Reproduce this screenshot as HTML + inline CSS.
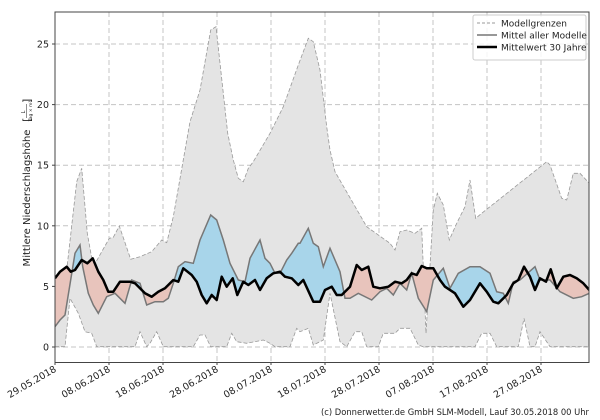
<!DOCTYPE html>
<html><head><meta charset="utf-8"><style>
body{margin:0;background:#fff;}
svg{display:block;font-family:"DejaVu Sans","Liberation Sans",sans-serif;}
</style></head><body>
<svg id="s" width="600" height="420" xmlns="http://www.w3.org/2000/svg">
<defs><clipPath id="pa"><rect x="55" y="12" width="534" height="350"/></clipPath></defs>
<g id="grid" stroke="#c4c4c4" stroke-width="1" stroke-dasharray="5,3"></g>
<g id="plot" clip-path="url(#pa)"></g>
<rect x="55" y="12" width="534" height="350.5" fill="none" stroke="#444" stroke-width="1"/>
<g id="ticks" font-size="9.5" fill="#222"></g>
<g transform="translate(26,188) rotate(-90)" font-size="10" fill="#222">
<text x="-10" y="4" text-anchor="middle">Mittlere Niederschlagshöhe</text>
<text x="66" y="4.5" font-size="11">[</text>
<text x="76" y="-1" font-size="5" text-anchor="middle">L</text>
<line x1="70" y1="0.5" x2="84" y2="0.5" stroke="#222" stroke-width="0.5"/>
<text x="77" y="6" font-size="4.5" text-anchor="middle">Tag × m²</text>
<text x="85" y="4.5" font-size="11">]</text>
</g>
<g>
<rect x="473" y="15" width="113" height="45" fill="#fff" fill-opacity="0.85" stroke="#ccc" rx="2"/>
<line x1="477" y1="23" x2="497" y2="23" stroke="#999" stroke-dasharray="3,2"/>
<line x1="477" y1="35" x2="497" y2="35" stroke="#777" stroke-width="1.5"/>
<line x1="477" y1="47" x2="497" y2="47" stroke="#000" stroke-width="2.5"/>
<text x="501" y="26.5" font-size="9" fill="#222">Modellgrenzen</text>
<text x="501" y="38.5" font-size="9" fill="#222">Mittel aller Modelle</text>
<text x="501" y="50.5" font-size="9" fill="#222">Mittelwert 30 Jahre</text>
</g>
<text x="321" y="415" font-size="9" fill="#222" textLength="268" lengthAdjust="spacingAndGlyphs">(c) Donnerwetter.de GmbH SLM-Modell, Lauf 30.05.2018 00 Uhr</text>
</svg>
<script>
function c(a){return a.map(function(p){var x=p[0]==1?p[1]/3:300+p[1]/3;return [x,p[2]/3];});}
function L(){var r=[],i,a=arguments;for(i=0;i<a.length;i++){var z=a[i][0],d=a[i][1];for(var j=0;j<d.length;j+=2)r.push([z,d[j],d[j+1]]);}return c(r);}
var up=L([1,[165,859,195,855,230,545,245,505,262,700,280,800,328,715,340,712,358,678,392,778,420,770,455,755,485,720,500,728,520,650,570,365,600,270,632,90,648,80,683,400,700,480,715,535,730,545,745,505,760,485,810,400,850,320,895,195]],[2,[25,115,40,125,60,210,80,380,90,450,105,515,200,680,270,730,285,750,300,695,320,690,345,700,365,685,378,1000,400,630,412,580,430,615,448,720,470,670,495,620,510,540,527,655,545,640,740,485,750,495,785,595,800,600,820,520,840,520,868,550]]);
var lo=L([1,[165,1040,195,1040,210,895,235,940,255,995,275,1000,290,1040,405,1040,420,995,440,1040,450,1030,470,995,490,1040,580,1040,600,1005,615,1005,632,1040,680,1040,695,1000,710,1025,740,1030,790,1020,810,1030,825,1040,870,1040,890,985]],[2,[0,995,25,985,40,1035,60,1025,70,1020,90,880,120,1025,140,1040,165,995,185,995,200,1040,235,1040,250,1000,285,1000,300,985,330,985,355,1035,370,1040,525,1040,545,1000,570,1000,590,1040,655,1040,672,955,690,1040,705,1040,720,995,750,1040,868,1040]]);
var me=L([1,[165,980,180,960,195,945,225,760,240,735,248,800,265,880,280,915,295,940,320,890,345,880,375,910,395,840,420,850,440,915,465,905,490,905,505,895,520,850,535,800,555,785,580,790,600,720,632,645,650,660,670,720,690,790,715,840,735,845,750,775,780,720,795,775,810,790,825,820,840,820,860,780,875,760,895,730]],[2,[0,730,25,685,40,730,55,740,70,800,90,745,120,815,135,895,150,895,175,880,215,900,240,875,260,865,280,885,300,850,320,870,335,820,355,895,380,935,400,840,430,805,450,865,475,820,510,800,540,800,570,820,590,875,610,880,625,910,640,845,660,840,705,800,720,840,750,840,780,875,820,895,845,890,868,880]]);
var bl=L([1,[165,835,180,815,200,800,212,815,225,810,245,780,262,790,278,775,295,815,310,840,325,875,340,875,360,845,390,845,405,850,435,880,455,890,475,875,495,865,520,840,535,845,550,805,575,825,590,845,605,885,620,910,635,885,650,900,665,830,680,860,698,835,712,885,730,845,745,855,765,840,780,870,800,835,820,820,840,815,855,830,875,835,895,855]],[2,[10,840,40,905,60,905,75,870,95,860,110,885,125,885,150,860,170,795,185,810,205,800,220,860,240,865,265,860,285,845,305,850,320,840,335,820,350,825,365,798,380,805,400,805,420,840,435,860,465,880,490,920,510,900,540,850,560,875,580,905,595,910,620,885,640,850,655,840,672,800,690,830,705,870,720,835,738,845,752,808,770,865,790,830,810,825,830,835,850,850,868,870]]);
function P(a){return a.map(function(p){return p[0].toFixed(1)+","+p[1].toFixed(1);}).join(" ");}
var NS="http://www.w3.org/2000/svg",s=document.getElementById("s");
function el(par,t,at){var e=document.createElementNS(NS,t);for(var k in at)e.setAttribute(k,at[k]);par.appendChild(e);return e;}
var defs=s.querySelector("defs");
var ca=el(defs,"clipPath",{id:"abk"});el(ca,"polygon",{points:"0,"+bl[0][1]+" "+P(bl)+" 600,"+bl[bl.length-1][1]+" 600,0 0,0"});
var cb=el(defs,"clipPath",{id:"abm"});el(cb,"polygon",{points:"0,"+me[0][1]+" "+P(me)+" 600,"+me[me.length-1][1]+" 600,0 0,0"});
var g=document.getElementById("grid");
for(var v=0;v<=25;v+=5){var y=347-12.12*v;el(g,"line",{x1:55,x2:589,y1:y,y2:y});}
var dates=["29.05.2018","08.06.2018","18.06.2018","28.06.2018","08.07.2018","18.07.2018","28.07.2018","07.08.2018","17.08.2018","27.08.2018"];
for(var i=1;i<10;i++){var x=55+54*i;el(g,"line",{x1:x,x2:x,y1:12,y2:362});}
var pl=document.getElementById("plot");
el(pl,"polygon",{points:P(up)+" "+P(lo.slice().reverse()),fill:"#e4e4e4",stroke:"none"});
el(pl,"polyline",{points:P(up),fill:"none",stroke:"#999","stroke-dasharray":"4,2","stroke-width":0.8});
el(pl,"polyline",{points:P(lo),fill:"none",stroke:"#999","stroke-dasharray":"4,2","stroke-width":0.8});
var gb=el(pl,"g",{"clip-path":"url(#abk)"});
el(gb,"polygon",{points:P(me)+" 600,"+me[me.length-1][1]+" 600,420 0,420 0,"+me[0][1],fill:"#a8d5ea"});
var gr=el(pl,"g",{"clip-path":"url(#abm)"});
el(gr,"polygon",{points:P(bl)+" 600,"+bl[bl.length-1][1]+" 600,420 0,420 0,"+bl[0][1],fill:"#e8c4bc"});
el(pl,"polyline",{points:P(me),fill:"none",stroke:"#777","stroke-width":1.5});
el(pl,"polyline",{points:P(bl),fill:"none",stroke:"#000","stroke-width":2.5,"stroke-linejoin":"round"});
var t=document.getElementById("ticks");
for(var v=0;v<=25;v+=5){var y=347-12.12*v;el(t,"line",{x1:52,x2:55,y1:y,y2:y,stroke:"#444"});var tx=el(t,"text",{x:49,y:y+3.5,"text-anchor":"end"});tx.textContent=v;}
for(var i=0;i<10;i++){var x=55+54*i;el(t,"line",{x1:x,x2:x,y1:362,y2:365,stroke:"#444"});var tx=el(t,"text",{x:0,y:0,"text-anchor":"end",transform:"translate("+(x+2)+",371) rotate(-30)"});tx.textContent=dates[i];}
</script>
</body></html>
